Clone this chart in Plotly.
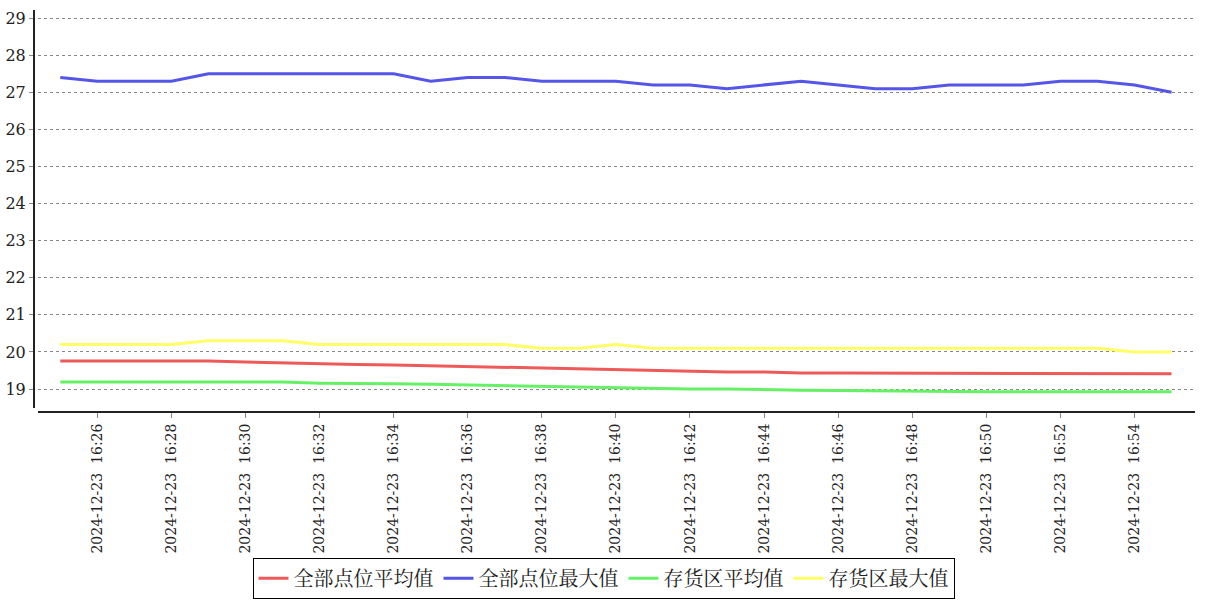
import plotly.graph_objects as go

times = [f"2024-12-23 16:{m:02d}" for m in range(25, 56)]

all_avg = [19.76, 19.76, 19.76, 19.76, 19.76, 19.73, 19.70, 19.68, 19.66, 19.65,
           19.63, 19.61, 19.58, 19.55, 19.54, 19.52, 19.49, 19.49, 19.46, 19.46,
           19.43, 19.43, 19.43, 19.41, 19.41, 19.41, 19.41, 19.41, 19.41, 19.41, 19.41]
all_max = [27.4, 27.3, 27.3, 27.3, 27.5, 27.5, 27.5, 27.5, 27.5, 27.5,
           27.3, 27.4, 27.4, 27.3, 27.3, 27.3, 27.2, 27.2, 27.1, 27.2,
           27.3, 27.2, 27.1, 27.1, 27.2, 27.2, 27.2, 27.3, 27.3, 27.2, 27.0]
store_avg = [19.19, 19.19, 19.19, 19.19, 19.19, 19.19, 19.19, 19.16, 19.14, 19.14,
             19.13, 19.11, 19.09, 19.08, 19.05, 19.03, 19.01, 19.00, 19.00, 18.98,
             18.97, 18.96, 18.95, 18.93, 18.93, 18.93, 18.93, 18.93, 18.93, 18.93, 18.93]
store_max = [20.2, 20.2, 20.2, 20.2, 20.3, 20.3, 20.3, 20.2, 20.2, 20.2,
             20.2, 20.2, 20.2, 20.1, 20.1, 20.2, 20.1, 20.1, 20.1, 20.1,
             20.1, 20.1, 20.1, 20.1, 20.1, 20.1, 20.1, 20.1, 20.1, 20.0, 20.0]

series_names = ["全部点位平均值", "全部点位最大值", "存货区平均值", "存货区最大值"]
series_colors = ["#EE5A5A", "#5555E8", "#66F066", "#FFFF66"]
series_values = [all_avg, all_max, store_avg, store_max]

tick_vals = [f"2024-12-23 16:{m:02d}" for m in range(26, 55, 2)]
tick_text = [t.replace(" ", "\u00a0\u00a0") for t in tick_vals]
y_ticks = [19, 20, 21, 22, 23, 24, 25, 26, 27, 28, 29]

fig = go.Figure()
for name, color, vals in zip(series_names, series_colors, series_values):
    fig.add_trace(go.Scatter(x=times, y=vals, mode="lines", name=name,
                             line=dict(color=color, width=3)))

serif = "DejaVu Serif, Noto Sans CJK SC, serif"
fig.update_layout(
    width=1207, height=600,
    margin=dict(l=34, r=12, t=10, b=188, autoexpand=False),
    paper_bgcolor="white", plot_bgcolor="white",
    font=dict(family=serif, color="#222"),
    showlegend=True,
    legend=dict(orientation="h", xref="container", yref="container",
                x=0.5, xanchor="center", y=0.002, yanchor="bottom",
                bordercolor="black", borderwidth=1, bgcolor="white",
                font=dict(size=20, color="#222", family="Noto Serif CJK SC, Noto Sans CJK SC, serif"),
                itemwidth=30, tracegroupgap=0),
    xaxis=dict(type="date", domain=[0.0035, 1], anchor="free", position=0,
               automargin=False,
               range=["2024-12-23 16:24:24", "2024-12-23 16:55:38"],
               tickmode="array", tickvals=tick_vals, ticktext=tick_text,
               tickangle=-90, tickfont=dict(size=14, family=serif, color="#222"),
               showline=True, linecolor="#222", linewidth=2,
               ticks="outside", ticklen=5, tickcolor="#888",
               showgrid=False, zeroline=False),
    yaxis=dict(domain=[0.01, 1], anchor="free", position=0,
               automargin=False,
               range=[18.49, 29.22],
               tickmode="array", tickvals=y_ticks,
               tickfont=dict(size=16, family=serif, color="#222"),
               showline=True, linecolor="#222", linewidth=2,
               ticks="outside", ticklen=4, tickcolor="#888",
               showgrid=True, gridcolor="#888", griddash="dot", gridwidth=1,
               zeroline=False),
)

fig.write_html("out.html", config={"displayModeBar": False},
               post_script="document.body.style.margin='0px';document.body.style.overflow='hidden';")
